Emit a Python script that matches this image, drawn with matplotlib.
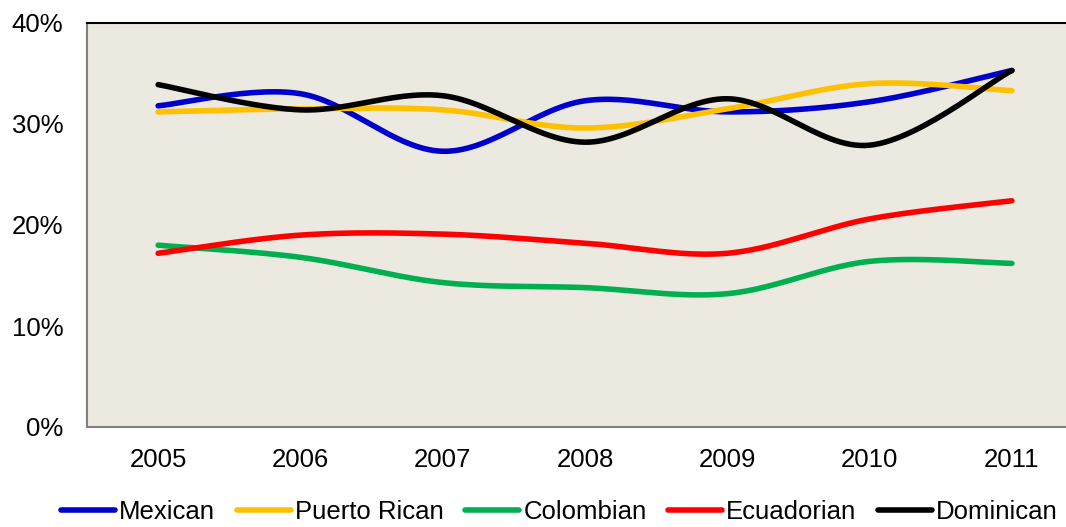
import numpy as np
import matplotlib.pyplot as plt
from matplotlib.ticker import FuncFormatter

years = ["2005", "2006", "2007", "2008", "2009", "2010", "2011"]
mexican = [31.8, 33.0, 27.3, 32.3, 31.2, 32.2, 35.3]
puerto_rican = [31.2, 31.5, 31.4, 29.6, 31.5, 34.0, 33.3]
colombian = [18.0, 16.8, 14.3, 13.8, 13.2, 16.4, 16.2]
ecuadorian = [17.2, 19.0, 19.1, 18.2, 17.2, 20.6, 22.4]
dominican = [33.9, 31.4, 32.8, 28.2, 32.5, 27.9, 35.3]

series = [
    ("Mexican", mexican, "#0000CC"),
    ("Puerto Rican", puerto_rican, "#FFC000"),
    ("Colombian", colombian, "#00B050"),
    ("Ecuadorian", ecuadorian, "#FF0000"),
    ("Dominican", dominican, "#000000"),
]


def smooth(xs, ys, n=30):
    # Excel-style smoothed line: Bezier segments with Catmull-Rom control points
    p = np.column_stack([xs, ys]).astype(float)
    p = np.vstack([p[0], p, p[-1]])
    out = []
    t = np.linspace(0, 1, n)[:, None]
    for i in range(1, len(p) - 2):
        p0, p1, p2, p3 = p[i - 1], p[i], p[i + 1], p[i + 2]
        c1 = p1 + (p2 - p0) / 6
        c2 = p2 - (p3 - p1) / 6
        seg = ((1 - t) ** 3) * p1 + 3 * ((1 - t) ** 2) * t * c1 \
            + 3 * (1 - t) * t ** 2 * c2 + t ** 3 * p2
        out.append(seg if i == 1 else seg[1:])
    out = np.vstack(out)
    return out[:, 0], out[:, 1]


plt.rcParams["font.family"] = ["Liberation Sans", "DejaVu Sans"]

fig = plt.figure(figsize=(10.66, 5.27), dpi=100)
ax = fig.add_axes([87 / 1066, 100 / 527, 996 / 1066, 404 / 527])
ax.set_facecolor("#ECE9E0")

x = np.arange(len(years))
for name, vals, color in series:
    sx, sy = smooth(x, vals)
    ax.plot(sx, sy, color=color, lw=4.0, solid_capstyle="round", label=name)

ax.set_xlim(-0.5, len(years) - 0.5)
ax.set_ylim(0, 40)
ax.set_yticks([0, 10, 20, 30, 40])
ax.yaxis.set_major_formatter(FuncFormatter(lambda v, _: f"{v:.0f}%"))
ax.set_xticks(x)
ax.set_xticklabels(years)
ax.tick_params(axis="both", length=0, labelsize=18.5)
ax.tick_params(axis="y", pad=17)
ax.tick_params(axis="x", pad=15)

ax.spines["right"].set_visible(False)
ax.spines["top"].set_color("black")
ax.spines["top"].set_linewidth(1.5)
for s in ("left", "bottom"):
    ax.spines[s].set_color("#808080")
    ax.spines[s].set_linewidth(1.5)

fig.legend(loc="center", bbox_to_anchor=(0.525, 0.028), ncol=5, frameon=False,
           fontsize=18.5, handlelength=2.1, handletextpad=0.15, columnspacing=0.85)

fig.savefig("out.png", dpi=100)
